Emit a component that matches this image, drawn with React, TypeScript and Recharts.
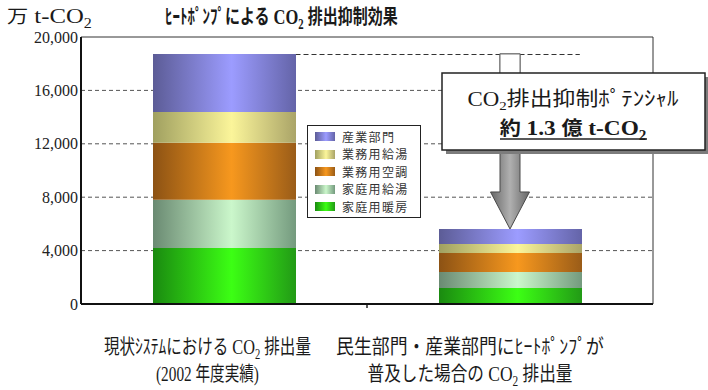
import React, { useLayoutEffect, useRef, useState } from "react";
import {
  BarChart,
  Bar,
  XAxis,
  YAxis,
  CartesianGrid,
  Legend,
  ReferenceArea,
} from "recharts";

// Categories ("_2" marks a subscript 2, "\n" splits the label into lines)
const categories = [
  "現状ｼｽﾃﾑにおける CO_2 排出量\n(2002 年度実績)",
  "民生部門・産業部門にﾋｰﾄﾎﾟﾝﾌﾟが\n普及した場合の CO_2 排出量",
];

// Series, bottom of the stack first (万 t-CO2)
const seriesNames = ["家庭用暖房", "家庭用給湯", "業務用空調", "業務用給湯", "産業部門"];
const homeHeating = [4200, 1200];
const homeHotWater = [3600, 1200];
const officeAircon = [4270, 1420];
const officeHotWater = [2320, 670];
const industry = [4340, 1130];
const seriesValues = [homeHeating, homeHotWater, officeAircon, officeHotWater, industry];

const yTicks = [0, 4000, 8000, 12000, 16000, 20000];

// Texts
const unitLabel = "万 t-CO_2";
const titleText = "ﾋｰﾄﾎﾟﾝﾌﾟによる CO_2 排出抑制効果";
const calloutLine1 = "CO_2排出抑制ﾎﾟﾃﾝｼｬﾙ";
const calloutLine2 = "約 1.3 億 t-CO_2";

// Shading per series: [edge, highlight, far edge]
const palette: [string, string, string][] = [
  ["#1a8a10", "#3cff14", "#229a16"],
  ["#6a8a72", "#cbf7cb", "#749a7e"],
  ["#8c5214", "#f7981e", "#9a5c18"],
  ["#a0a060", "#fbf59a", "#aaa468"],
  ["#5c5c96", "#9c9cff", "#6464a8"],
];

// Label layout: horizontal shift from the category centre and fitted width per line
const labelShift = [-16.5, -40];
const labelWidths = [
  [207, 103],
  [268, 205],
];

const data = categories.map((name, i) => {
  const row: Record<string, string | number> = { name };
  seriesNames.forEach((s, k) => {
    row[s] = seriesValues[k][i];
  });
  return row;
});

const totals = categories.map((_, i) => seriesValues.reduce((sum, v) => sum + v[i], 0));
const yMax = yTicks[yTicks.length - 1];

const SERIF = "'Liberation Serif', 'Times New Roman', serif";
const CJK = "'Noto Sans CJK JP', sans-serif";

type Run = { t: string; kind: "latin" | "cjk" | "sub" };

function toRuns(text: string): Run[] {
  const out: Run[] = [];
  const parts = text.split("_2");
  parts.forEach((p, i) => {
    const m = p.match(/[\x20-\x7E]+|[^\x20-\x7E]+/g) || [];
    m.forEach((seg) => out.push({ t: seg, kind: /^[\x20-\x7E]+$/.test(seg) ? "latin" : "cjk" }));
    if (i < parts.length - 1) out.push({ t: "2", kind: "sub" });
  });
  return out;
}

// Mixed Latin / CJK text, squeezed horizontally to a given width
function RichText(props: {
  x: number;
  y: number;
  text: string;
  width: number;
  anchor?: "start" | "middle" | "end";
  cjkSize: number;
  latinSize: number;
  bold?: boolean;
  fill?: string;
}) {
  const { x, y, text, width, anchor = "middle", cjkSize, latinSize, bold, fill = "#1a1a1a" } = props;
  const ref = useRef<SVGTextElement>(null);
  const [sx, setSx] = useState(1);
  useLayoutEffect(() => {
    if (!ref.current) return;
    const w = ref.current.getBBox().width;
    if (w > 0) setSx(width / w);
  }, [text, width, cjkSize, latinSize]);
  const runs = toRuns(text);
  const shift = Math.round(latinSize * 0.22);
  let lowered = false;
  return (
    <text
      ref={ref}
      x={x}
      y={y}
      textAnchor={anchor}
      fontWeight={bold ? 700 : 400}
      fill={fill}
      transform={`translate(${x},0) scale(${sx},1) translate(${-x},0)`}
    >
      {runs.map((r, i) => {
        let dy: number | undefined;
        if (r.kind === "sub") {
          dy = shift;
          lowered = true;
        } else if (lowered) {
          dy = -shift;
          lowered = false;
        }
        return (
          <tspan
            key={i}
            dy={dy}
            fontFamily={r.kind === "cjk" ? CJK : SERIF}
            fontSize={r.kind === "cjk" ? cjkSize : r.kind === "latin" ? latinSize : latinSize * 0.65}
          >
            {r.t}
          </tspan>
        );
      })}
    </text>
  );
}

function CategoryTick(props: any) {
  const { x, y, payload, index } = props;
  const lines = String(payload.value).split("\n");
  const cx = x + labelShift[index];
  return (
    <g>
      {lines.map((line, li) => (
        <RichText
          key={li}
          x={cx}
          y={y + 50 + li * 27}
          text={line}
          width={labelWidths[index][li]}
          cjkSize={20}
          latinSize={21}
        />
      ))}
    </g>
  );
}

// Plot frame: thin top and right edges (left/bottom are the axis lines)
function FrameShape(props: any) {
  const { x, y, width, height } = props;
  return (
    <path
      d={`M${x},${y} L${x + width},${y} L${x + width},${y + height}`}
      fill="none"
      stroke="#333"
      strokeWidth={1}
    />
  );
}

// Small separator tick between the two categories
function SeparatorShape(props: any) {
  const { x, y, width } = props;
  return <line x1={x + width} x2={x + width} y1={y} y2={y + 4} stroke="#222" strokeWidth={1.5} />;
}

// Dashed guide level with the taller stack, running from its right edge
function GuideShape(props: any) {
  const { x, y, width } = props;
  const yy = Math.round(y) + 0.5;
  return (
    <line
      x1={x + width * 0.375}
      x2={x + width * 0.872}
      y1={yy}
      y2={yy}
      stroke="#333"
      strokeWidth={1.2}
      strokeDasharray="5 3"
    />
  );
}

// Down arrow from the taller stack's level to the top of the shorter one
function ArrowShape(props: any) {
  const { x, y, width, height } = props;
  const cx = x + width / 2;
  const top = y;
  const tip = y + height;
  const shaftHalf = 10;
  const headHalf = 19.5;
  const headTop = tip - 37;
  const d = `M${cx - shaftHalf},${top} L${cx + shaftHalf},${top} L${cx + shaftHalf},${headTop} L${cx + headHalf},${headTop} L${cx},${tip} L${cx - headHalf},${headTop} L${cx - shaftHalf},${headTop} Z`;
  return (
    <g>
      <path d={d} fill="url(#arrowGrad)" stroke="#4a4a4a" strokeWidth={1} />
      <rect x={cx - shaftHalf} y={top} width={shaftHalf * 2} height={24} fill="#fff" stroke="#6a6a6a" strokeWidth={1} />
    </g>
  );
}

function LegendBox() {
  const items = seriesNames.map((n, i) => ({ n, c: palette[i] })).reverse();
  return (
    <div
      style={{
        width: 114,
        height: 93,
        border: "1px solid #222",
        background: "#fff",
        boxSizing: "border-box",
        padding: "2px 0 0 7px",
      }}
    >
      {items.map((it) => (
        <div key={it.n} style={{ height: 17.5, display: "flex", alignItems: "center" }}>
          <div
            style={{
              width: 20,
              height: 9,
              marginRight: 7,
              background: `linear-gradient(to right, ${it.c[0]}, ${it.c[1]} 55%, ${it.c[2]})`,
            }}
          />
          <span
            style={{ fontFamily: CJK, fontSize: 12, letterSpacing: 1.3, color: "#333", lineHeight: 1 }}
          >
            {it.n}
          </span>
        </div>
      ))}
    </div>
  );
}

export default function App() {
  const first = categories[0];
  const last = categories[categories.length - 1];
  return (
    <div style={{ position: "absolute", left: 0, top: 0, width: 708, height: 390, background: "#fff" }}>
      <BarChart
        width={708}
        height={390}
        data={data}
        margin={{ top: 37, right: 55, left: 0, bottom: 0 }}
        barSize={143}
      >
        <defs>
          {palette.map((c, i) => (
            <linearGradient key={i} id={`seg${i}`} x1="0" y1="0" x2="1" y2="0">
              <stop offset="0" stopColor={c[0]} />
              <stop offset="0.55" stopColor={c[1]} />
              <stop offset="1" stopColor={c[2]} />
            </linearGradient>
          ))}
          <linearGradient id="arrowGrad" x1="0" y1="0" x2="1" y2="0">
            <stop offset="0" stopColor="#666" />
            <stop offset="0.5" stopColor="#b0b0b0" />
            <stop offset="1" stopColor="#666" />
          </linearGradient>
        </defs>
        <CartesianGrid
          vertical={false}
          horizontalValues={yTicks.slice(1, -1)}
          stroke="#555"
          strokeDasharray="4 3"
        />
        <XAxis
          dataKey="name"
          interval={0}
          tickLine={false}
          tickSize={0}
          tickMargin={0}
          height={86}
          axisLine={{ stroke: "#111", strokeWidth: 2 }}
          tick={(p: any) => <CategoryTick {...p} />}
        />
        <YAxis
          width={81}
          domain={[0, yMax]}
          ticks={yTicks}
          interval={0}
          tickLine={false}
          tickSize={3}
          tickMargin={0}
          axisLine={{ stroke: "#111", strokeWidth: 2 }}
          tickFormatter={(v: number) => v.toLocaleString("en-US")}
          tick={{ fontFamily: SERIF, fontSize: 16, fill: "#222" }}
        />
        <ReferenceArea
          x1={first}
          x2={last}
          y1={0}
          y2={yMax}
          shape={(p: any) => <FrameShape {...p} />}
        />
        {seriesNames.map((s, i) => (
          <Bar key={s} dataKey={s} name={s} stackId="total" fill={`url(#seg${i})`} isAnimationActive={false} />
        ))}
        <ReferenceArea
          x1={first}
          x2={first}
          y1={0}
          y2={0}
          ifOverflow="visible"
          shape={(p: any) => <SeparatorShape {...p} />}
        />
        <ReferenceArea
          x1={first}
          x2={last}
          y1={totals[0]}
          y2={totals[0]}
          shape={(p: any) => <GuideShape {...p} />}
        />
        <ReferenceArea
          x1={last}
          x2={last}
          y1={totals[1]}
          y2={totals[0]}
          shape={(p: any) => <ArrowShape {...p} />}
        />
        <Legend
          layout="vertical"
          align="center"
          verticalAlign="middle"
          wrapperStyle={{ position: "absolute", left: 307, top: 125, width: 114, height: 93 }}
          content={() => <LegendBox />}
        />
      </BarChart>

      <svg
        width={708}
        height={390}
        style={{ position: "absolute", left: 0, top: 0, pointerEvents: "none" }}
      >
        <RichText x={7} y={23} anchor="start" text={unitLabel} width={85} cjkSize={18} latinSize={21} />
        <RichText x={165} y={24} anchor="start" text={titleText} width={233} cjkSize={20} latinSize={22} bold />
        <rect x={446} y={77} width={263} height={77} fill="#7c7c7c" />
        <rect x={442} y={73} width={263} height={77} fill="#fff" stroke="#222" strokeWidth={1.5} />
        <RichText x={573} y={106} text={calloutLine1} width={211} cjkSize={20} latinSize={20} />
        <RichText x={573} y={135} text={calloutLine2} width={147} cjkSize={19} latinSize={21} bold />
        <line x1={500} x2={647} y1={139} y2={139} stroke="#222" strokeWidth={1.5} />
      </svg>
    </div>
  );
}
